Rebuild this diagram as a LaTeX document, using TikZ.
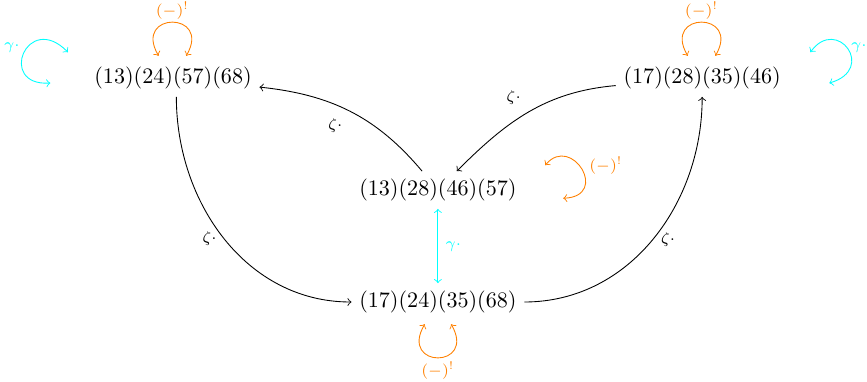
\documentclass[tikz,border=0pt]{standalone}
\usepackage{amsmath,amssymb}
\usepackage{xcolor}
\usepackage{tikz}
\usetikzlibrary{arrows,positioning,calc}

\definecolor{gcyan}{RGB}{0,255,255}
\definecolor{iorange}{RGB}{255,128,0}

\begin{document}
\begin{tikzpicture}
    % Define styles
    \tikzstyle{perm} = [rectangle, inner sep=3.33pt]
    \tikzstyle{zarrow} = [->, black]
    \tikzstyle{lbl} = [font=\scriptsize]
    \tikzstyle{oloop} = [<->, iorange]
    \tikzstyle{cloop} = [<->, gcyan]

    \useasboundingbox (0,0) rectangle (13.78,6.06);

    % Permutations
    \node[perm] (tl) at (2.75,4.82) {(13)(24)(57)(68)};
    \node[perm] (tr) at (11.16,4.82) {(17)(28)(35)(46)};
    \node[perm] (mid) at (6.96,3.04) {(13)(28)(46)(57)};
    \node[perm] (bot) at (6.96,1.26) {(17)(24)(35)(68)};

    % Zeta arrows
    \draw[zarrow] ([xshift=1.5pt]tl.south) to[out=-90, in=180] node[lbl, left] (z1) {$\zeta\cdot$} (bot.west);
    \draw[zarrow] (bot.east) to[out=0, in=-90] node[lbl, right] (z2) {$\zeta\cdot$} (tr.south);
    \draw[zarrow] (mid) to[out=130, in=-6] node[lbl, below left] (z3) {$\zeta\cdot$} (tl);
    \draw[zarrow] (tr) to[out=185, in=45] node[lbl, above left] (z4) {$\zeta\cdot$} (mid);

    % Gamma arrow
    \draw[cloop] (mid) -- node[lbl, right, text=gcyan] (g1) {$\gamma\cdot$} (bot);

    % Involution loops
    \draw[oloop] ([xshift=-0.23cm, yshift=1.5pt]tl.north) .. controls +(120:0.82) and +(60:0.82) .. ([xshift=0.21cm, yshift=1.5pt]tl.north) node[lbl, midway, above, inner sep=1pt] (o1) {$(-)^{!}$};
    \draw[oloop] ([xshift=-0.23cm, yshift=1.5pt]tr.north) .. controls +(120:0.82) and +(60:0.82) .. ([xshift=0.21cm, yshift=1.5pt]tr.north) node[lbl, midway, above, inner sep=1pt] (o2) {$(-)^{!}$};
    \draw[oloop] ([xshift=-0.21cm, yshift=-1.5pt]bot.south) .. controls +(-120:0.82) and +(-60:0.82) .. ([xshift=0.21cm, yshift=-1.5pt]bot.south) node[lbl, midway, below, inner sep=1.5pt] (o4) {$(-)^{!}$};

    \coordinate (o3a) at (8.665,3.434);
    \coordinate (o3b) at (8.951,2.909);
    \draw[oloop] (o3a) .. controls +(0.42,0.5) and +(0.75,0.03) .. (o3b);
    \node[lbl, text=iorange] (o3) at (9.63,3.43) {$(-)^{!}$};

    % Gamma loops
    \coordinate (c1a) at (0.80,4.74);
    \coordinate (c1b) at (1.08,5.23);
    \draw[cloop] (c1a) .. controls +(-0.85,-0.05) and +(-0.65,0.66) .. (c1b);
    \node[lbl, text=gcyan] (g2) at (0.19,5.30) {$\gamma\cdot$};

    \coordinate (c2a) at (12.88,5.23);
    \coordinate (c2b) at (13.18,4.74);
    \draw[cloop] (c2a) .. controls +(0.42,0.58) and +(0.76,0.22) .. (c2b);
    \node[lbl, text=gcyan, anchor=east, inner sep=0pt] (g3) at (13.78,5.31) {$\gamma\cdot$};
\end{tikzpicture}
\end{document}
